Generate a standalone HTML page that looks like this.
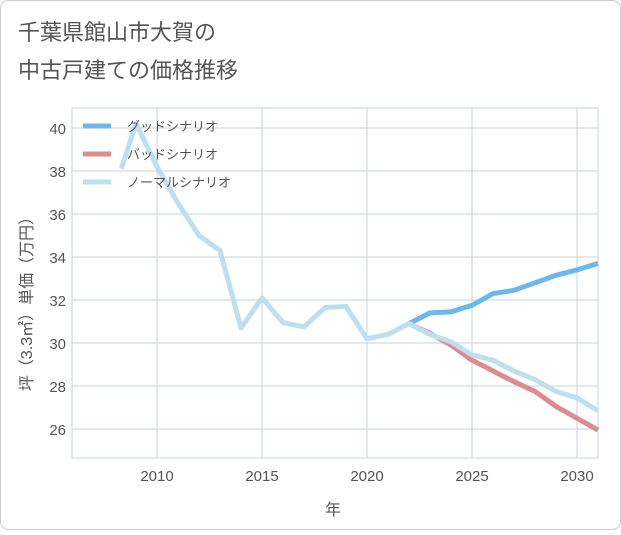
<!DOCTYPE html>
<html><head><meta charset="utf-8">
<style>
body{margin:0;background:#fff;}
#wrap{width:621px;height:530px;position:relative;font-family:"Liberation Sans","Noto Sans CJK JP",sans-serif;}
svg text{font-family:"Liberation Sans","Noto Sans CJK JP",sans-serif;}
</style></head>
<body>
<div id="wrap">
<svg id="chart" width="621" height="530">
<rect x="0.5" y="0.5" width="620" height="529" rx="8" fill="#fff" stroke="#ccc"/>
<text x="18" y="40" font-size="22" fill="#555">千葉県館山市大賀の</text>
<text x="18" y="78" font-size="22" fill="#555">中古戸建ての価格推移</text>
<g id="grid"></g>
<g id="series"></g>
<g id="legend"></g>
<text x="333" y="515" font-size="16" fill="#555" text-anchor="middle">年</text>
<text transform="translate(32,300) rotate(-90)" font-size="16" fill="#555" text-anchor="middle">坪（3.3㎡）単価（万円）</text>
</svg>
</div>
<script>
const xTicks=[2010,2015,2020,2025,2030];
const yTicks=[26,28,30,32,34,36,38,40];
const normalYears=[2008.3,2009,2010,2011,2012,2013,2014,2015,2016,2017,2018,2019,2020,2021,2022,2023,2024,2025,2026,2027,2028,2029,2030,2031];
const normalVals=[38.1,40.2,38.2,36.5,35.0,34.3,30.7,32.1,30.95,30.75,31.65,31.7,30.2,30.4,30.9,30.4,30.05,29.45,29.2,28.7,28.3,27.75,27.45,26.85];
const futureYears=[2022,2023,2024,2025,2026,2027,2028,2029,2030,2031];
const goodVals=[30.9,31.4,31.45,31.75,32.3,32.45,32.8,33.15,33.4,33.7];
const badVals=[30.9,30.45,29.9,29.2,28.7,28.2,27.75,27.05,26.5,25.95];
const seriesNames=["グッドシナリオ","バッドシナリオ","ノーマルシナリオ"];
const L=72,R=598,T=108,B=458;
const xs=y=>157+(y-2010)*21;
const ys=v=>429-(v-26)*21.5;
const NS="http://www.w3.org/2000/svg";
function mk(tag,attrs,parent){const e=document.createElementNS(NS,tag);for(const k in attrs)e.setAttribute(k,attrs[k]);parent.appendChild(e);return e;}
const grid=document.getElementById('grid');
const bg=mk('rect',{x:L,y:T,width:R-L,height:B-T,fill:'#fff',stroke:'#c8d3de'},grid);


xTicks.forEach(t=>{
 const l=mk('line',{x1:xs(t),x2:xs(t),y1:T,y2:B,stroke:'#c8d3de'},grid);
 
 
 const tx=mk('text',{x:xs(t),y:B+23,'font-size':15,fill:'#555','text-anchor':'middle'},grid);
 tx.textContent=t;
 
 
});
yTicks.forEach(t=>{
 const l=mk('line',{x1:L,x2:R,y1:ys(t),y2:ys(t),stroke:'#c8d3de'},grid);
 
 
 const tx=mk('text',{x:L-6,y:ys(t)+6,'font-size':15,fill:'#555','text-anchor':'end'},grid);
 tx.textContent=t;
 
 
});
const sg=document.getElementById('series');
function line(years,vals,color,name){
 const pts=years.map((y,i)=>xs(y)+','+ys(vals[i])).join(' ');
 const p=mk('polyline',{points:pts,fill:'none',stroke:color,'stroke-width':5,'stroke-linejoin':'round'},sg);
 
 
}
line(futureYears,goodVals,'#6cb8ee','good-scenario-line');
line(futureYears,badVals,'#dd8a90','bad-scenario-line');
line(normalYears,normalVals,'#bde0f0','normal-scenario-line');
const lg=document.getElementById('legend');
const cols=['#6cb8ee','#dd8a90','#bde0f0'];
seriesNames.forEach((n,i)=>{
 const y=126+i*28;
 const l=mk('line',{x1:83,x2:111,y1:y,y2:y,stroke:cols[i],'stroke-width':5},lg);
 
 
 const t=mk('text',{x:127,y:y+5,'font-size':13,fill:'#555'},lg);
 t.textContent=n;
 
 
});
</script>
</body></html>
